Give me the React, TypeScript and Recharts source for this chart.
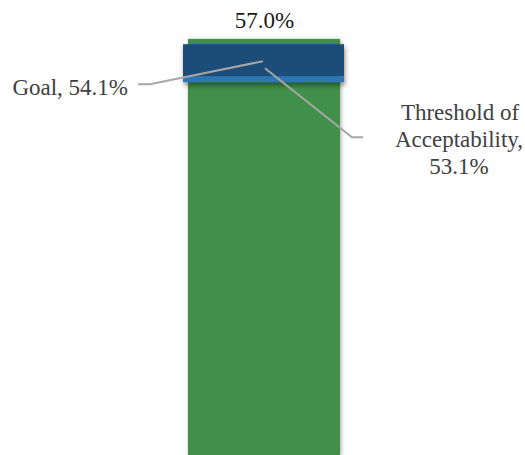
import React from 'react';
import { BarChart, Bar, XAxis, YAxis, LabelList } from 'recharts';

const categories = ['Result'];
const resultValues = [57.0];
const goalValues = [54.1];
const thresholdValues = [53.1];

const data = categories.map((c, i) => ({
  name: c,
  result: resultValues[i],
  band: [thresholdValues[i], goalValues[i]],
}));

const GREEN = '#41904b';
const DARK_BLUE = '#1f4e79';
const LIGHT_BLUE = '#2e75b6';
const LEADER = '#a6a6a6';
const FONT = 'Liberation Serif, DejaVu Serif, serif';

const GreenShape = (props: any) => {
  const { x, y, width, height } = props;
  const top = Math.min(y, y + height);
  const h = Math.abs(height);
  return (
    <g>
      <defs>
        <filter id="shGreen" x="-20%" y="-20%" width="140%" height="140%">
          <feDropShadow dx="1" dy="1" stdDeviation="2" floodColor="#000" floodOpacity="0.35" />
        </filter>
      </defs>
      <rect x={x} y={top} width={width} height={h} fill={GREEN} filter="url(#shGreen)" />
    </g>
  );
};

const BandShape = (props: any) => {
  const { x, y, width, height } = props;
  const top = Math.min(y, y + height);
  const h = Math.abs(height);
  return (
    <g>
      <defs>
        <filter id="shBand" x="-20%" y="-50%" width="140%" height="200%">
          <feDropShadow dx="1" dy="3" stdDeviation="2.5" floodColor="#000" floodOpacity="0.45" />
        </filter>
      </defs>
      <g filter="url(#shBand)">
        <rect x={x} y={top} width={width} height={h} fill={DARK_BLUE} />
        <rect x={x} y={top + h} width={width} height={6} fill={LIGHT_BLUE} />
      </g>
    </g>
  );
};

const TopLabel = (props: any) => {
  const { x, y, width, value } = props;
  return (
    <text x={x + width / 2 + 0.5} y={y - 11} textAnchor="middle" fontFamily={FONT} fontSize={23} fill="#1a1a1a">
      {`${Number(value).toFixed(1)}%`}
    </text>
  );
};

const BandLabels = (props: any) => {
  const { x, y, index } = props;
  const goal = goalValues[index];
  const thr = thresholdValues[index];
  return (
    <g>
      <polyline
        points={`${x - 45},${y + 40} ${x - 33},${y + 40} ${x + 80},${y + 17}`}
        fill="none"
        stroke={LEADER}
        strokeWidth={2}
      />
      <text x={x - 55} y={y + 51} textAnchor="end" fontFamily={FONT} fontSize={23} fill="#404040">{`Goal, ${goal.toFixed(1)}%`}</text>
      <polyline
        points={`${x + 82},${y + 24} ${x + 169},${y + 93} ${x + 180},${y + 93}`}
        fill="none"
        stroke={LEADER}
        strokeWidth={2}
      />
      <text x={x + 277} y={y + 76} textAnchor="middle" fontFamily={FONT} fontSize={23} fill="#404040">Threshold of</text>
      <text x={x + 276} y={y + 103} textAnchor="middle" fontFamily={FONT} fontSize={23} fill="#404040">Acceptability,</text>
      <text x={x + 276} y={y + 130} textAnchor="middle" fontFamily={FONT} fontSize={23} fill="#404040">{`${thr.toFixed(1)}%`}</text>
    </g>
  );
};

export default function App() {
  return (
    <div style={{ position: 'fixed', top: 0, left: 0, width: 525, height: 455, background: '#fff' }}>
      <BarChart width={525} height={455} data={data} margin={{ top: 17, right: 0, bottom: 0, left: 2 }}>
        <XAxis xAxisId="a" dataKey="name" hide />
        <XAxis xAxisId="b" dataKey="name" hide />
        <YAxis yAxisId="left" domain={[0, 60]} hide />
        <YAxis yAxisId="right" domain={[41.26, 54.95]} allowDataOverflow hide />
        <Bar
          xAxisId="a"
          yAxisId="left"
          dataKey="result"
          barSize={152}
          shape={<GreenShape />}
          isAnimationActive={false}
        >
          <LabelList dataKey="result" content={<TopLabel />} />
        </Bar>
        <Bar
          xAxisId="b"
          yAxisId="right"
          dataKey="band"
          barSize={161}
          shape={<BandShape />}
          isAnimationActive={false}
        >
          <LabelList dataKey="band" content={<BandLabels />} />
        </Bar>
      </BarChart>
    </div>
  );
}
